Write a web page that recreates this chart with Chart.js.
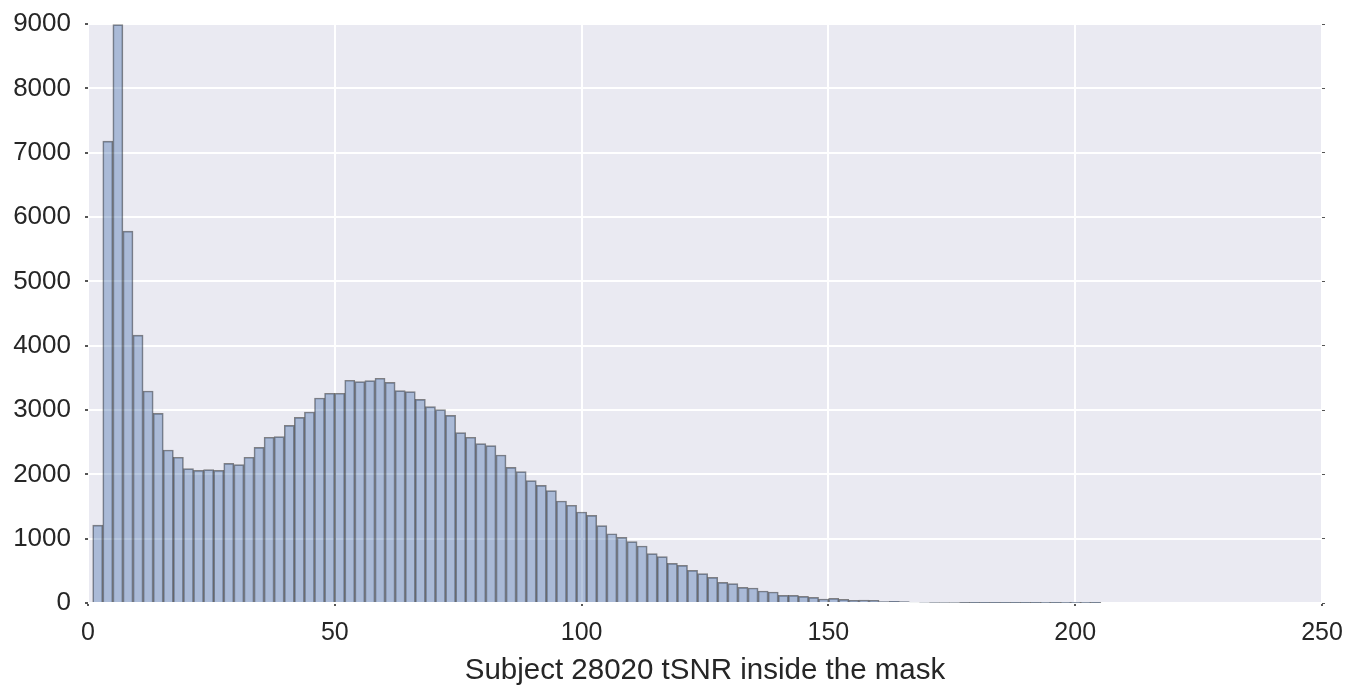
<!DOCTYPE html>
<html>
<head>
<meta charset="utf-8">
<script src="https://cdn.jsdelivr.net/npm/chart.js@4.4.1/dist/chart.umd.min.js"></script>
<style>
    html, body { margin: 0; padding: 0; background: #ffffff; }
    #wrap { width: 1352px; height: 688px; }
</style>
</head>
<body>
<div id="wrap"><canvas id="histChart"></canvas></div>
<script>
// histogram: 100 bins, first edge and width
const binStart = 0.95;
const binWidth = 2.0425;
const counts = [
    1210, 7180, 8990, 5780, 4165, 3296, 2948, 2378, 2265, 2088,
    2062, 2073, 2062, 2171, 2150, 2265, 2420, 2576, 2586, 2762,
    2886, 2969, 3187, 3260, 3260, 3462, 3441, 3456, 3493, 3430,
    3300, 3285, 3166, 3052, 3005, 2917, 2648, 2576, 2477, 2446,
    2301, 2109, 2042, 1902, 1829, 1746, 1586, 1519, 1415, 1363,
    1202, 1077, 1021, 953, 886, 767, 722, 617, 586, 508,
    456, 399, 321, 301, 244, 233, 187, 171, 119, 119,
    104, 88, 62, 73, 57, 42, 47, 42, 21, 26,
    22, 15, 14, 10, 9, 8, 7, 6, 5, 5,
    4, 3, 3, 2, 1, 2, 1, 1, 1, 3
];
const xTicks = [0, 50, 100, 150, 200, 250];
const yTicks = [0, 1000, 2000, 3000, 4000, 5000, 6000, 7000, 8000, 9000];
const xLabel = 'Subject 28020 tSNR inside the mask';

const points = counts.map((c, i) => ({ x: binStart + binWidth * (i + 0.5), y: c }));

// seaborn-ish grey panel behind the plot
const panelBg = {
    id: 'panelBg',
    beforeDraw(chart) {
        const a = chart.chartArea;
        const ctx = chart.ctx;
        ctx.save();
        ctx.fillStyle = '#EAEAF2';
        ctx.fillRect(a.left, a.top, a.right - a.left, a.bottom - a.top);
        ctx.restore();
    }
};

// keep the plot box where the reference has it
function noPad(scale) {
    scale.paddingTop = 0;
    scale.paddingBottom = 0;
    scale.paddingLeft = 0;
    scale.paddingRight = 0;
}

const fontFamily = 'Liberation Sans, Arial, sans-serif';

const ctx = document.getElementById('histChart').getContext('2d');
const histChart = new Chart(ctx, {
    type: 'bar',
    data: {
        datasets: [{
            data: points,
            backgroundColor: 'rgba(76, 114, 176, 0.4)',
            borderColor: 'rgba(20, 20, 20, 0.5)',
            borderWidth: 1,
            borderSkipped: 'bottom',
            barPercentage: 1,
            categoryPercentage: 1,
            grouped: false
        }]
    },
    options: {
        responsive: true,
        maintainAspectRatio: false,
        animation: false,
        layout: { padding: { top: 24, left: 0, right: 0, bottom: 0 } },
        plugins: {
            legend: { display: false },
            tooltip: { enabled: false }
        },
        scales: {
            x: {
                type: 'linear',
                offset: false,
                min: 0,
                max: 250,
                afterBuildTicks: (scale) => { scale.ticks = xTicks.map(v => ({ value: v })); },
                afterFit: (scale) => { scale.height = 85; noPad(scale); },
                border: { display: false },
                grid: {
                    color: '#ffffff',
                    lineWidth: 2,
                    tickColor: '#555555',
                    tickLength: 3,
                    offset: false
                },
                ticks: {
                    color: '#262626',
                    font: { family: fontFamily, size: 25 },
                    padding: 12,
                    maxRotation: 0,
                    callback: (v) => String(v)
                },
                title: {
                    display: true,
                    text: xLabel,
                    color: '#262626',
                    font: { family: fontFamily, size: 29.5, lineHeight: 1.0 },
                    padding: { top: 6, bottom: 2 }
                }
            },
            y: {
                min: 0,
                max: 9000,
                afterBuildTicks: (scale) => { scale.ticks = yTicks.map(v => ({ value: v })); },
                afterFit: (scale) => { scale.width = 88; noPad(scale); },
                border: { display: false },
                grid: {
                    color: '#ffffff',
                    lineWidth: 2,
                    tickColor: '#555555',
                    tickLength: 3
                },
                ticks: {
                    color: '#262626',
                    font: { family: fontFamily, size: 26 },
                    padding: 14,
                    callback: (v) => String(v)
                }
            },
            yRight: {
                position: 'right',
                min: 0,
                max: 9000,
                afterBuildTicks: (scale) => { scale.ticks = yTicks.map(v => ({ value: v })); },
                afterFit: (scale) => { scale.width = 30; noPad(scale); },
                border: { display: false },
                grid: {
                    drawOnChartArea: false,
                    tickColor: '#555555',
                    tickLength: 3
                },
                ticks: { display: false }
            }
        }
    },
    plugins: [panelBg]
});
</script>
</body>
</html>
